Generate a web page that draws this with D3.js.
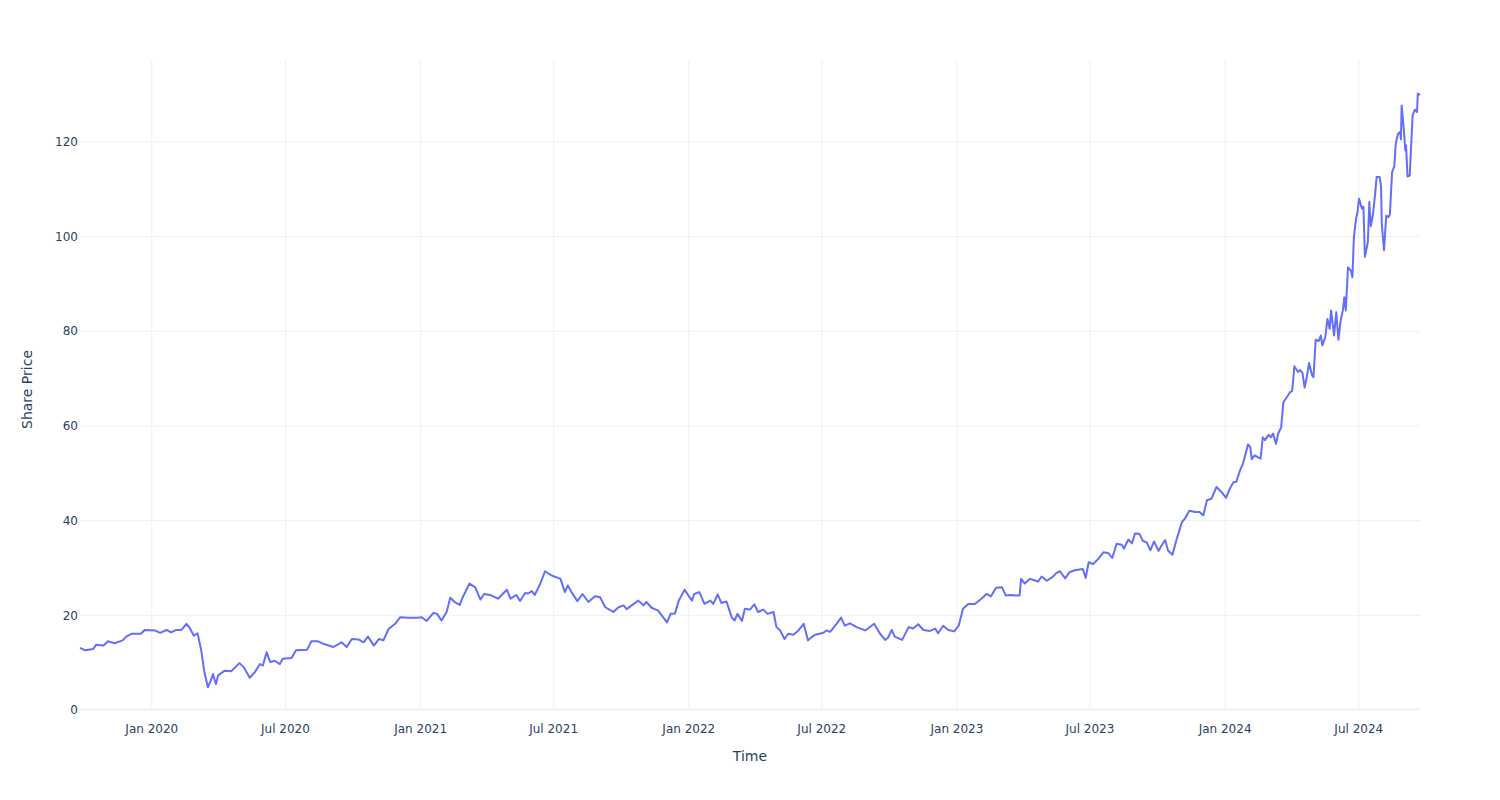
<!DOCTYPE html>
<html>
<head>
<meta charset="utf-8">
<script src="https://cdn.jsdelivr.net/npm/d3@7"></script>
<style>
  html, body { margin: 0; padding: 0; background: #fff; }
  svg { display: block; }
  text { font-family: "DejaVu Sans", Verdana, sans-serif; fill: #2a3f5f; }
</style>
</head>
<body>
<svg id="chart" width="1500" height="800"></svg>
<script>
const dates = [
"2019-09-26","2019-10-03","2019-10-14","2019-10-18","2019-10-28","2019-11-03","2019-11-12","2019-11-23","2019-11-28","2019-12-05",
"2019-12-18","2019-12-23","2020-01-06","2020-01-13","2020-01-22","2020-01-28","2020-02-04","2020-02-11","2020-02-18","2020-02-22",
"2020-02-28","2020-03-04","2020-03-09","2020-03-13","2020-03-18","2020-03-22","2020-03-25","2020-03-29","2020-04-01","2020-04-10",
"2020-04-19","2020-04-30","2020-05-06","2020-05-14","2020-05-21","2020-05-28","2020-06-01","2020-06-06","2020-06-11","2020-06-17",
"2020-06-24","2020-06-28","2020-07-10","2020-07-16","2020-07-31","2020-08-06","2020-08-15","2020-08-22","2020-09-05","2020-09-16",
"2020-09-23","2020-09-30","2020-10-09","2020-10-16","2020-10-22","2020-10-30","2020-11-06","2020-11-12","2020-11-19","2020-11-28",
"2020-12-05","2020-12-16","2020-12-28","2021-01-03","2021-01-10","2021-01-19","2021-01-24","2021-01-30","2021-02-06","2021-02-11",
"2021-02-17","2021-02-24","2021-02-27","2021-03-09","2021-03-17","2021-03-24","2021-03-29","2021-04-06","2021-04-17","2021-04-29",
"2021-05-04","2021-05-12","2021-05-17","2021-05-24","2021-05-28","2021-06-02","2021-06-06","2021-06-13","2021-06-20","2021-06-29",
"2021-07-11","2021-07-17","2021-07-21","2021-07-26","2021-08-03","2021-08-10","2021-08-18","2021-08-27","2021-09-03","2021-09-10",
"2021-09-21","2021-09-28","2021-10-05","2021-10-09","2021-10-16","2021-10-25","2021-11-01","2021-11-05","2021-11-12","2021-11-21",
"2021-12-03","2021-12-08","2021-12-14","2021-12-19","2021-12-27","2022-01-01","2022-01-06","2022-01-09","2022-01-16","2022-01-23",
"2022-01-31","2022-02-04","2022-02-10","2022-02-15","2022-02-22","2022-03-01","2022-03-05","2022-03-09","2022-03-15","2022-03-19",
"2022-03-26","2022-04-01","2022-04-06","2022-04-13","2022-04-19","2022-04-27","2022-05-01","2022-05-06","2022-05-12","2022-05-17",
"2022-05-24","2022-05-31","2022-06-07","2022-06-13","2022-06-18","2022-06-23","2022-07-04","2022-07-08","2022-07-13","2022-07-20",
"2022-07-28","2022-08-02","2022-08-09","2022-08-18","2022-08-30","2022-09-11","2022-09-19","2022-09-26","2022-09-30","2022-10-05",
"2022-10-09","2022-10-19","2022-10-28","2022-11-03","2022-11-10","2022-11-17","2022-11-26","2022-12-03","2022-12-07","2022-12-14",
"2022-12-21","2022-12-29","2023-01-04","2023-01-10","2023-01-17","2023-01-26","2023-02-04","2023-02-11","2023-02-17","2023-02-24",
"2023-03-04","2023-03-09","2023-03-15","2023-03-23","2023-03-28","2023-03-30","2023-04-04","2023-04-11","2023-04-17","2023-04-22",
"2023-04-27","2023-05-04","2023-05-11","2023-05-17","2023-05-22","2023-05-29","2023-06-04","2023-06-11","2023-06-22","2023-06-26",
"2023-06-30","2023-07-06","2023-07-13","2023-07-20","2023-07-27","2023-08-01","2023-08-07","2023-08-14","2023-08-17","2023-08-23",
"2023-08-28","2023-09-01","2023-09-07","2023-09-12","2023-09-17","2023-09-22","2023-09-27","2023-10-03","2023-10-07","2023-10-12",
"2023-10-16","2023-10-22","2023-10-28","2023-11-04","2023-11-08","2023-11-14","2023-11-22","2023-11-28","2023-12-03","2023-12-08",
"2023-12-14","2023-12-21","2023-12-28","2024-01-03","2024-01-08","2024-01-13","2024-01-17","2024-01-22","2024-01-26","2024-01-29",
"2024-02-02","2024-02-05","2024-02-07","2024-02-11","2024-02-15","2024-02-19","2024-02-22","2024-02-25","2024-03-01","2024-03-04",
"2024-03-07","2024-03-11","2024-03-14","2024-03-18","2024-03-21","2024-03-26","2024-03-30","2024-04-02","2024-04-05","2024-04-10",
"2024-04-13","2024-04-16","2024-04-19","2024-04-22","2024-04-25","2024-04-29","2024-05-01","2024-05-04","2024-05-08","2024-05-11",
"2024-05-13","2024-05-17","2024-05-20","2024-05-23","2024-05-25","2024-05-29","2024-06-01","2024-06-04","2024-06-07","2024-06-10",
"2024-06-12","2024-06-14","2024-06-17","2024-06-21","2024-06-23","2024-06-25","2024-06-28","2024-06-30","2024-07-02","2024-07-06",
"2024-07-08","2024-07-10","2024-07-14","2024-07-16","2024-07-18","2024-07-21","2024-07-24","2024-07-26","2024-07-30","2024-08-01",
"2024-08-02","2024-08-05","2024-08-08","2024-08-11","2024-08-13","2024-08-16","2024-08-19","2024-08-21","2024-08-24","2024-08-27",
"2024-08-28","2024-08-29","2024-09-01","2024-09-03","2024-09-04","2024-09-06","2024-09-09","2024-09-11","2024-09-13","2024-09-16",
"2024-09-19","2024-09-20","2024-09-23"
];
const prices = [
13.0,12.5,12.8,13.7,13.5,14.4,14.0,14.6,15.4,16.0,
16.0,16.8,16.7,16.2,16.8,16.3,16.8,16.8,18.1,17.3,
15.6,16.1,12.5,8.2,4.7,6.1,7.5,5.4,7.2,8.2,
8.1,9.8,8.9,6.7,7.9,9.6,9.3,12.1,10.0,10.3,
9.6,10.7,10.9,12.5,12.6,14.4,14.4,13.9,13.2,14.2,
13.2,14.9,14.8,14.2,15.4,13.5,14.9,14.6,17.0,18.1,
19.5,19.4,19.4,19.5,18.7,20.4,20.2,18.8,20.6,23.6,
22.7,22.1,23.4,26.6,25.8,23.2,24.4,24.2,23.4,25.3,
23.4,24.2,22.9,24.6,24.5,25.0,24.2,26.4,29.2,28.3,
27.6,24.8,26.2,24.8,22.9,24.4,22.7,23.9,23.7,21.6,
20.6,21.6,22.0,21.2,22.0,23.0,22.0,22.7,21.5,20.9,
18.4,20.2,20.3,23.0,25.3,24.1,23.0,24.4,24.8,22.3,
23.0,22.3,24.3,22.5,22.8,19.5,18.8,20.2,18.7,21.3,
21.1,22.2,20.6,21.1,20.2,20.6,17.4,16.7,14.9,16.0,
15.8,16.7,18.1,14.6,15.3,15.8,16.2,16.7,16.4,17.7,
19.4,17.7,18.2,17.4,16.7,18.1,16.0,14.7,15.2,16.8,
15.4,14.7,17.4,17.1,18.0,16.8,16.6,17.1,16.1,17.7,
16.8,16.5,17.7,21.3,22.3,22.3,23.4,24.4,23.9,25.7,
25.8,24.1,24.2,24.1,24.1,27.6,26.6,27.6,27.3,27.0,
28.1,27.2,27.9,28.8,29.2,27.7,29.0,29.4,29.7,27.8,
31.1,30.7,31.8,33.2,33.0,32.0,35.0,34.8,34.0,35.9,
35.1,37.2,37.1,35.6,35.3,33.6,35.5,33.5,34.6,35.8,
33.6,32.7,36.1,39.6,40.3,42.0,41.7,41.7,41.0,44.2,
44.5,47.0,45.9,44.7,46.6,48.0,48.1,50.5,51.9,53.7,
56.0,55.4,52.9,53.7,53.3,53.0,57.5,56.9,58.0,57.5,
58.3,56.1,58.3,59.6,64.9,66.0,67.0,67.3,72.5,71.3,
71.7,71.1,68.0,70.3,73.2,70.6,70.2,78.1,77.8,79.0,
76.9,78.6,82.5,80.4,84.3,79.0,83.9,78.1,82.2,84.3,
87.1,84.3,93.4,92.7,91.3,99.8,103.7,105.1,107.9,105.8,
106.2,95.6,98.7,107.2,102.1,104.6,109.0,112.5,112.5,110.4,
102.5,97.0,104.3,104.0,104.6,113.5,114.7,119.5,121.6,122.0,
120.4,127.6,122.5,118.1,119.2,112.6,112.8,119.2,125.5,126.7,
126.2,130.1,129.8
];
const xTickDates = ["2020-01-01","2020-07-01","2021-01-01","2021-07-01","2022-01-01","2022-07-01","2023-01-01","2023-07-01","2024-01-01","2024-07-01"];
const xTickLabels = ["Jan 2020","Jul 2020","Jan 2021","Jul 2021","Jan 2022","Jul 2022","Jan 2023","Jul 2023","Jan 2024","Jul 2024"];
const yTicks = [0, 20, 40, 60, 80, 100, 120];
const xTitle = "Time";
const yTitle = "Share Price";

const parse = d3.timeParse("%Y-%m-%d");
const data = dates.map((d, i) => ({ date: parse(d), value: prices[i] }));
const tickDates = xTickDates.map(parse);

const W = 1500, H = 800;
const m = { l: 80, r: 80, t: 60, b: 90.5 };
const svg = d3.select("#chart");

const x = d3.scaleTime()
  .domain(d3.extent(data, d => d.date))
  .range([m.l, W - m.r]);
const y = d3.scaleLinear()
  .domain([0, d3.max(prices) * 1.0545])
  .range([H - m.b, m.t]);

const grid = "#EBF0F8";

// vertical grid
svg.append("g")
  .attr("transform", `translate(0,${H - m.b})`)
  .call(d3.axisBottom(x).tickValues(tickDates).tickSize(-(H - m.b - m.t)).tickFormat(""))
  .call(g => g.select(".domain").remove())
  .call(g => g.selectAll("line").attr("stroke", grid).attr("stroke-width", 1));

// horizontal grid
svg.append("g")
  .attr("transform", `translate(${m.l},0)`)
  .call(d3.axisLeft(y).tickValues(yTicks.filter(v => v !== 0)).tickSize(-(W - m.l - m.r)).tickFormat(""))
  .call(g => g.select(".domain").remove())
  .call(g => g.selectAll("line").attr("stroke", grid).attr("stroke-width", 1));

// zero line
svg.append("line")
  .attr("x1", m.l).attr("x2", W - m.r)
  .attr("y1", y(0)).attr("y2", y(0))
  .attr("stroke", grid).attr("stroke-width", 2);

// line
svg.append("path")
  .datum(data)
  .attr("fill", "none")
  .attr("stroke", "#636efa")
  .attr("stroke-width", 2)
  .attr("stroke-linejoin", "round")
  .attr("d", d3.line().x(d => x(d.date)).y(d => y(d.value)));

// x tick labels
svg.append("g")
  .attr("transform", `translate(0,${H - m.b})`)
  .call(d3.axisBottom(x).tickValues(tickDates).tickSize(0).tickPadding(0)
    .tickFormat((d, i) => xTickLabels[i]))
  .call(g => g.select(".domain").remove())
  .call(g => g.selectAll("text")
    .attr("y", 23).attr("dy", 0)
    .style("font-family", '"DejaVu Sans", Verdana, sans-serif')
    .style("font-size", "12px").attr("fill", "#2a3f5f"));

// y tick labels
svg.append("g")
  .attr("transform", `translate(${m.l},0)`)
  .call(d3.axisLeft(y).tickValues(yTicks).tickSize(0).tickPadding(2))
  .call(g => g.select(".domain").remove())
  .call(g => g.selectAll("text")
    .attr("dy", "0.35em")
    .style("font-family", '"DejaVu Sans", Verdana, sans-serif')
    .style("font-size", "12px").attr("fill", "#2a3f5f"));

// axis titles
svg.append("text")
  .attr("x", (m.l + W - m.r) / 2).attr("y", 761)
  .attr("text-anchor", "middle")
  .style("font-size", "14px")
  .text(xTitle);

svg.append("text")
  .attr("transform", `translate(32,389.5) rotate(-90)`)
  .attr("text-anchor", "middle")
  .style("font-size", "14px")
  .text(yTitle);
</script>
</body>
</html>
